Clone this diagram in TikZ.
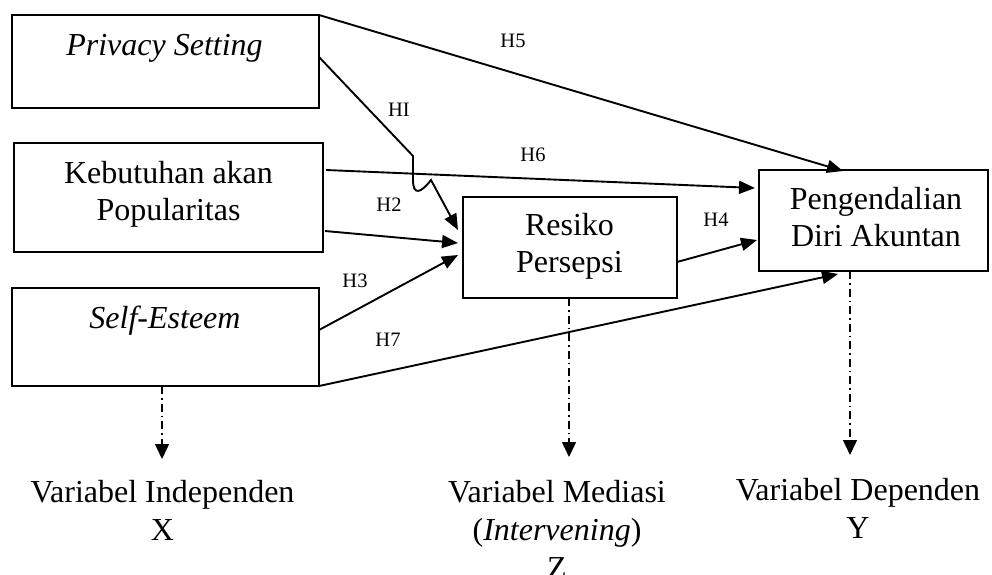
\documentclass[tikz,border=0pt]{standalone}
\usepackage{fontspec}
\setmainfont{Liberation Serif}
\usetikzlibrary{arrows.meta,calc}
\begin{document}
\begin{tikzpicture}[x=1pt,y=-1pt,
  box/.style={draw,line width=1.9pt,inner sep=0pt,outer sep=0pt},
  btxt/.style={font=\fontsize{32}{37}\selectfont,align=center,inner sep=0pt,anchor=base},
  vtxt/.style={font=\fontsize{32}{38}\selectfont,align=center,inner sep=0pt,anchor=base},
  lbl/.style={font=\fontsize{20.5}{24}\selectfont,inner sep=0pt},
  arr/.style={line width=1.9pt,-{Triangle[length=16pt,width=13pt]}},
  varr/.style={line width=1.4pt,dash pattern=on 8pt off 4pt on 1.5pt off 4pt,-{Triangle[length=15pt,width=14pt]}}]
\useasboundingbox (0,0) rectangle (992,574);
% boxes
\node[box,minimum width=307pt,minimum height=93pt] (ps) at (165.5,61.5) {};
\node[box,minimum width=309pt,minimum height=109pt] (kb) at (168.5,197.5) {};
\node[box,minimum width=307pt,minimum height=98pt] (se) at (165.5,337) {};
\node[box,minimum width=214pt,minimum height=101pt] (rp) at (570,247.5) {};
\node[box,minimum width=229pt,minimum height=101pt] (pd) at (873.5,220.5) {};
% box texts (base anchor = baseline of the last line)
\node[btxt] (pst) at (164.5,55) {\itshape Privacy Setting};
\node[btxt] (kbt) at (168.5,220) {Kebutuhan akan\\Popularitas};
\node[btxt] (set) at (165,328) {\itshape Self-Esteem};
\node[btxt] (rpt) at (569.5,272) {Resiko\\Persepsi};
\node[btxt] (pdt) at (876,246) {Pengendalian\\Diri Akuntan};
% arrows
\draw[arr] (ps.north east) -- ($(pd.north west)+(84,1)$);
\draw[arr] ($(ps.east)+(0,-4.5)$) -- (413,156) -- (413,180)
  .. controls (413,196) and (421,193) .. (431,180) -- ($(rp.west)+(-5,-17.5)$);
\draw[arr] ($(kb.east)+(3,-27.5)$) -- ($(pd.west)+(-4,-32.5)$);
\draw[arr] ($(kb.east)+(2,33.5)$) -- ($(rp.west)+(-5,-4.5)$);
\draw[arr] ($(se.east)+(0,-7)$) -- ($(rp.west)+(-5,7.5)$);
\draw[arr] ($(rp.east)+(0,14.5)$) -- ($(pd.west)+(-2,19.5)$);
\draw[arr] (se.south east) -- ($(pd.south west)+(79,3)$);
% labels
\node[lbl] (l5) at (513,41) {H5};
\node[lbl] (l1) at (399,110) {HI};
\node[lbl] (l6) at (533,155) {H6};
\node[lbl] (l2) at (389,205) {H2};
\node[lbl] (l4) at (716,220) {H4};
\node[lbl] (l3) at (355,281) {H3};
\node[lbl] (l7) at (388,340) {H7};
% bottom texts
\node[vtxt] (vi) at (162.5,540) {Variabel Independen\\X};
\node[vtxt] (vm) at (557,578) {Variabel Mediasi\\(\textit{Intervening})\\Z};
\node[vtxt] (vd) at (858,538) {Variabel Dependen\\Y};
\coordinate (ti) at (162,459);
\coordinate (tm) at (569,457);
\coordinate (td) at (850,455);
\draw[varr] (se.south -| ti) -- (ti);
\draw[varr] (rp.south -| tm) -- (tm);
\draw[varr] (pd.south -| td) -- (td);
\end{tikzpicture}
\end{document}
